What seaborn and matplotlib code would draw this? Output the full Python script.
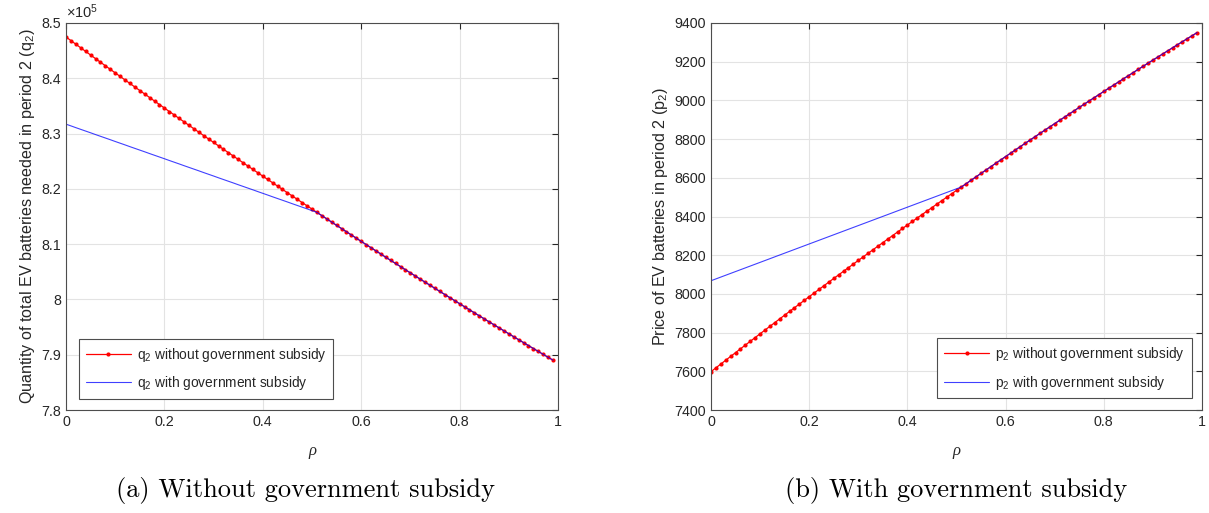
import matplotlib
matplotlib.use("Agg")
import matplotlib.pyplot as plt
import seaborn as sns
import numpy as np
import pandas as pd

# rho from 0 to 0.99 in steps of 0.01
rho = [round(i / 100, 2) for i in range(100)]

# left panel: q2 (units of 1e5)
q2_without = [
    8.4747, 8.4682, 8.4616, 8.4551, 8.4486, 8.4421, 8.4356, 8.4291, 8.4227, 8.4162,
    8.4098, 8.4034, 8.3970, 8.3906, 8.3842, 8.3779, 8.3715, 8.3652, 8.3588, 8.3525,
    8.3462, 8.3399, 8.3337, 8.3274, 8.3212, 8.3149, 8.3087, 8.3025, 8.2963, 8.2901,
    8.2840, 8.2778, 8.2717, 8.2655, 8.2594, 8.2533, 8.2472, 8.2411, 8.2351, 8.2290,
    8.2230, 8.2170, 8.2110, 8.2050, 8.1990, 8.1930, 8.1871, 8.1811, 8.1752, 8.1693,
    8.1634, 8.1575, 8.1516, 8.1457, 8.1399, 8.1340, 8.1282, 8.1224, 8.1166, 8.1108,
    8.1050, 8.0993, 8.0935, 8.0878, 8.0821, 8.0763, 8.0706, 8.0650, 8.0593, 8.0536,
    8.0480, 8.0424, 8.0367, 8.0311, 8.0256, 8.0200, 8.0144, 8.0089, 8.0033, 7.9978,
    7.9923, 7.9868, 7.9813, 7.9758, 7.9704, 7.9649, 7.9595, 7.9541, 7.9487, 7.9433,
    7.9379, 7.9325, 7.9272, 7.9218, 7.9165, 7.9112, 7.9059, 7.9006, 7.8953, 7.8901,
]
q2_with = [
    8.3170, 8.3139, 8.3107, 8.3076, 8.3045, 8.3014, 8.2982, 8.2951, 8.2920, 8.2889,
    8.2857, 8.2826, 8.2795, 8.2763, 8.2732, 8.2701, 8.2670, 8.2638, 8.2607, 8.2576,
    8.2545, 8.2513, 8.2482, 8.2451, 8.2419, 8.2388, 8.2357, 8.2326, 8.2294, 8.2263,
    8.2232, 8.2200, 8.2169, 8.2138, 8.2107, 8.2075, 8.2044, 8.2013, 8.1982, 8.1950,
    8.1919, 8.1888, 8.1856, 8.1825, 8.1794, 8.1763, 8.1731, 8.1700, 8.1669, 8.1638,
    8.1606, 8.1575, 8.1516, 8.1457, 8.1399, 8.1340, 8.1282, 8.1224, 8.1166, 8.1108,
    8.1050, 8.0993, 8.0935, 8.0878, 8.0821, 8.0763, 8.0706, 8.0650, 8.0593, 8.0536,
    8.0480, 8.0424, 8.0367, 8.0311, 8.0256, 8.0200, 8.0144, 8.0089, 8.0033, 7.9978,
    7.9923, 7.9868, 7.9813, 7.9758, 7.9704, 7.9649, 7.9595, 7.9541, 7.9487, 7.9433,
    7.9379, 7.9325, 7.9272, 7.9218, 7.9165, 7.9112, 7.9059, 7.9006, 7.8953, 7.8901,
]

# right panel: p2
p2_without = [
    7598.0, 7617.8, 7637.5, 7657.2, 7676.9, 7696.5, 7716.0, 7735.6, 7755.0, 7774.5,
    7793.9, 7813.2, 7832.5, 7851.8, 7871.0, 7890.2, 7909.4, 7928.5, 7947.5, 7966.5,
    7985.5, 8004.5, 8023.3, 8042.2, 8061.0, 8079.8, 8098.5, 8117.1, 8135.8, 8154.4,
    8172.9, 8191.4, 8209.9, 8228.3, 8246.7, 8265.0, 8283.3, 8301.6, 8319.8, 8338.0,
    8356.1, 8374.2, 8392.2, 8410.2, 8428.2, 8446.1, 8463.9, 8481.8, 8499.6, 8517.3,
    8535.0, 8552.7, 8570.3, 8587.8, 8605.4, 8622.9, 8640.3, 8657.7, 8675.1, 8692.4,
    8709.7, 8726.9, 8744.1, 8761.3, 8778.4, 8795.4, 8812.5, 8829.4, 8846.4, 8863.3,
    8880.1, 8896.9, 8913.7, 8930.4, 8947.1, 8963.8, 8980.3, 8996.9, 9013.4, 9029.9,
    9046.3, 9062.7, 9079.1, 9095.4, 9111.6, 9127.8, 9144.0, 9160.1, 9176.2, 9192.3,
    9208.3, 9224.2, 9240.2, 9256.0, 9271.9, 9287.7, 9303.4, 9319.1, 9334.8, 9350.4,
]
p2_with = [
    8068.0, 8077.5, 8087.0, 8096.5, 8106.0, 8115.5, 8125.0, 8134.5, 8144.0, 8153.5,
    8163.0, 8172.5, 8182.0, 8191.6, 8201.1, 8210.6, 8220.1, 8229.6, 8239.1, 8248.6,
    8258.1, 8267.6, 8277.1, 8286.6, 8296.1, 8305.6, 8315.1, 8324.6, 8334.1, 8343.6,
    8353.1, 8362.6, 8372.1, 8381.6, 8391.1, 8400.6, 8410.1, 8419.6, 8429.2, 8438.7,
    8448.2, 8457.7, 8467.2, 8476.7, 8486.2, 8495.7, 8505.2, 8514.7, 8524.2, 8533.7,
    8543.2, 8552.7, 8570.3, 8587.8, 8605.4, 8622.9, 8640.3, 8657.7, 8675.1, 8692.4,
    8709.7, 8726.9, 8744.1, 8761.3, 8778.4, 8795.4, 8812.5, 8829.4, 8846.4, 8863.3,
    8880.1, 8896.9, 8913.7, 8930.4, 8947.1, 8963.8, 8980.3, 8996.9, 9013.4, 9029.9,
    9046.3, 9062.7, 9079.1, 9095.4, 9111.6, 9127.8, 9144.0, 9160.1, 9176.2, 9192.3,
    9208.3, 9224.2, 9240.2, 9256.0, 9271.9, 9287.7, 9303.4, 9319.1, 9334.8, 9350.4,
]

x_ticks = [0, 0.2, 0.4, 0.6, 0.8, 1]
q_ticks = [7.8, 7.9, 8.0, 8.1, 8.2, 8.3, 8.4, 8.5]
p_ticks = [7400, 7600, 7800, 8000, 8200, 8400, 8600, 8800, 9000, 9200, 9400]

sns.set_style("white")
plt.rcParams['font.family'] = ['Liberation Sans', 'DejaVu Sans']
plt.rcParams['mathtext.fontset'] = 'custom'
plt.rcParams['mathtext.rm'] = 'Liberation Sans'
plt.rcParams['mathtext.it'] = 'Liberation Sans:italic'
plt.rcParams['mathtext.default'] = 'regular'

dark = '#262626'
fig = plt.figure(figsize=(12.09, 5.13), dpi=100)
ax1 = fig.add_axes([66 / 1209, 1 - 410 / 513, 492 / 1209, 387 / 513])
ax2 = fig.add_axes([711 / 1209, 1 - 410 / 513, 491 / 1209, 387 / 513])


def draw(ax, y_without, y_with, name):
    sns.lineplot(x=rho, y=y_without, ax=ax, color='red', linewidth=0.9,
                 marker='o', markersize=3, markeredgewidth=0,
                 label=f'{name}$_2$ without government subsidy')
    sns.lineplot(x=rho, y=y_with, ax=ax, color='blue', linewidth=0.8, alpha=0.75,
                 label=f'{name}$_2$ with government subsidy')
    ax.set_xlim(0, 1)
    ax.set_xticks(x_ticks)
    ax.set_xticklabels(['0', '0.2', '0.4', '0.6', '0.8', '1'])
    ax.grid(True, color='#e3e3e3', linewidth=0.8)
    ax.set_axisbelow(True)
    ax.tick_params(direction='in', length=4, width=0.8, colors=dark, labelsize=10.3,
                   top=True, right=True, labelcolor=dark)
    for s in ax.spines.values():
        s.set_color('#4d4d4d')
        s.set_linewidth(0.8)
    ax.set_xlabel('ρ', family='Liberation Serif', style='italic', fontsize=12,
                  color=dark, labelpad=10)


def legend(ax, loc, anchor):
    leg = ax.legend(loc=loc, bbox_to_anchor=anchor, borderaxespad=0,
                    fontsize=9.9, frameon=True, fancybox=False, framealpha=1,
                    edgecolor='#4d4d4d', handlelength=3.3, handletextpad=0.4,
                    borderpad=0.5, labelspacing=0.75)
    leg.get_frame().set_linewidth(0.8)


draw(ax1, q2_without, q2_with, 'q')
ax1.set_ylim(7.8, 8.5)
ax1.set_yticks(q_ticks)
ax1.set_yticklabels([f'{v:g}' for v in q_ticks])
ax1.set_ylabel('Quantity of total EV batteries needed in period 2 (q$_2$)',
               fontsize=11.6, color=dark, labelpad=3)
ax1.text(0, 1.006, r'$\times$10$^5$', transform=ax1.transAxes, fontsize=10.5,
         color=dark, ha='left', va='bottom')
legend(ax1, 'lower left', (0.026, 0.029))

draw(ax2, p2_without, p2_with, 'p')
ax2.set_ylim(7400, 9400)
ax2.set_yticks(p_ticks)
ax2.set_yticklabels([str(v) for v in p_ticks])
ax2.set_ylabel('Price of EV batteries in period 2 (p$_2$)', fontsize=11.6,
               color=dark, labelpad=3)
legend(ax2, 'lower right', (0.979, 0.03))

fig.text(305 / 1209, 1 - 490 / 513, '(a) Without government subsidy', family='cmr10',
         fontsize=19, ha='center', va='center', color='black')
fig.text(956 / 1209, 1 - 490 / 513, '(b) With government subsidy', family='cmr10',
         fontsize=19, ha='center', va='center', color='black')

fig.savefig('out.png', dpi=100)
